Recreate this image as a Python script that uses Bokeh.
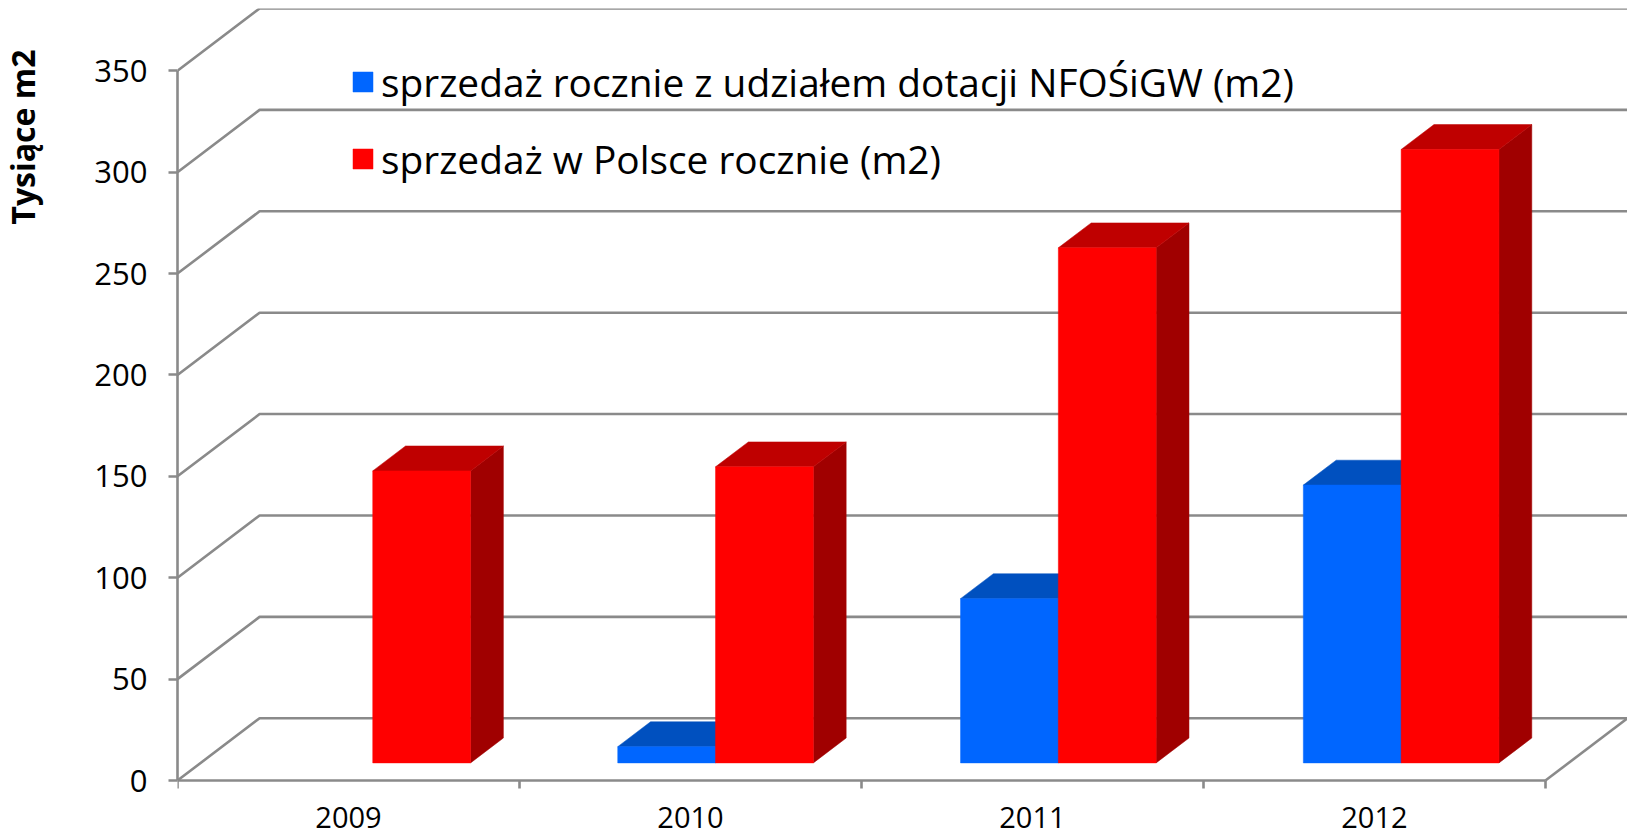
from bokeh.plotting import figure
from bokeh.embed import file_html
from bokeh.resources import INLINE
from bokeh.models import ColumnDataSource, Legend, LegendItem, FixedTicker, LinearAxis, Title, Range1d

years = ["2009", "2010", "2011", "2012"]
y_ticks = [0, 50, 100, 150, 200, 250, 300, 350]
dotacje = [0, 8, 81, 137]
polska = [144, 146, 254, 302.5]
name_dotacje = "sprzedaż rocznie z udziałem dotacji NFOŚiGW (m2)"
name_polska = "sprzedaż w Polsce rocznie (m2)"
y_title = "Tysiące m2"

FONT = "Open Sans"
GRID = "#8a8a8a"
LW = 2.6
DX, DY = 0.24, 30.7          # depth of the 3D box, data units
F0, F1 = 0.283, 0.683        # bar front / back plane inside the depth
BAR_W = 0.286
STEP = 1.0024
OFFS = 0.0018
Y_BOTTOM = -26.13            # room under the zero line for the year labels

p = figure(width=1627, height=833, output_backend="svg", toolbar_location=None,
           x_range=Range1d(0, 4 + DX), y_range=Range1d(Y_BOTTOM, 350 + DY),
           min_border_left=177, min_border_right=0, min_border_top=8, min_border_bottom=0,
           outline_line_color=None, background_fill_color="white", border_fill_color="white")
p.grid.visible = False

# walls
xs, ys = [], []
for v in y_ticks:
    xs.append([0, DX, 4 + DX]); ys.append([v, v + DY, v + DY])
xs.append([4, 4 + DX]); ys.append([0, DY])
p.multi_line(xs, ys, line_color=GRID, line_width=LW)

# axes
ya = p.yaxis[0]
ya.ticker = FixedTicker(ticks=y_ticks)
ya.bounds = (0, 350)
ya.axis_line_color = GRID; ya.axis_line_width = LW
ya.major_tick_line_color = GRID; ya.major_tick_line_width = LW
ya.major_tick_in = 0; ya.major_tick_out = 9
ya.minor_tick_line_color = None
ya.major_label_text_font = FONT; ya.major_label_text_font_size = "31px"
ya.major_label_text_color = "black"; ya.major_label_standoff = 21

xa = p.xaxis[0]
xa.fixed_location = 0
xa.ticker = FixedTicker(ticks=[0.5, 1.5, 2.5, 3.5], minor_ticks=[0, 1, 2, 3, 4])
xa.major_label_overrides = {i + 0.5: y for i, y in enumerate(years)}
xa.bounds = (0, 4)
xa.axis_line_color = GRID; xa.axis_line_width = LW
xa.major_tick_line_color = None; xa.major_tick_in = 0; xa.major_tick_out = 0
xa.minor_tick_line_color = GRID; xa.minor_tick_line_width = LW
xa.minor_tick_in = 0; xa.minor_tick_out = 8
xa.major_label_text_font = FONT; xa.major_label_text_font_size = "29px"
xa.major_label_text_color = "black"; xa.major_label_standoff = 18

# empty axis: only keeps the y title away from the tick labels
spacer = LinearAxis(ticker=FixedTicker(ticks=[]), axis_line_color=None,
                    major_tick_line_color=None, minor_tick_line_color=None,
                    major_tick_out=0, major_tick_in=0, minor_tick_out=0, minor_tick_in=0,
                    axis_label=" ", axis_label_text_font_size="1px", axis_label_standoff=46)
p.add_layout(spacer, "left")

p.add_layout(Title(text=y_title, align="right", offset=41, standoff=-4,
                   text_font=FONT, text_font_size="32px", text_font_style="bold",
                   text_color="black"), "left")


def bars(values, side_offset, front, top, side):
    rows = [(i, v) for i, v in enumerate(values) if v > 0]
    left = [STEP * (i + 0.5) + OFFS + side_offset * BAR_W for i, v in rows]
    right = [l + BAR_W for l in left]
    vals = [v for i, v in rows]
    x0, y0 = F0 * DX, F0 * DY
    x1, y1 = F1 * DX, F1 * DY
    p.patches([[r + x0, r + x1, r + x1, r + x0] for r in right],
              [[y0, y1, v + y1, v + y0] for v in vals],
              fill_color=side, line_color=side, line_width=0.5)
    p.patches([[l + x0, l + x1, r + x1, r + x0] for l, r in zip(left, right)],
              [[v + y0, v + y1, v + y1, v + y0] for v in vals],
              fill_color=top, line_color=top, line_width=0.5)
    src = ColumnDataSource(dict(l=[l + x0 for l in left], r=[r + x0 for r in right],
                                b=[y0] * len(vals), t=[v + y0 for v in vals]))
    return p.quad(left="l", right="r", bottom="b", top="t", source=src,
                  fill_color=front, line_color=front, line_width=0.5)


r_blue = bars(dotacje, -1, "#0066ff", "#0050bf", "#0044a0")
r_red = bars(polska, 0, "#ff0000", "#bf0000", "#a00000")

legend = Legend(items=[LegendItem(label=name_dotacje, renderers=[r_blue]),
                       LegendItem(label=name_polska, renderers=[r_red])],
                location=(173, 648), orientation="vertical",
                border_line_color=None, background_fill_alpha=0,
                glyph_width=25, glyph_height=25, label_standoff=6,
                margin=0, padding=0, spacing=24,
                label_text_font=FONT, label_text_font_size="38.85px", label_text_color="black")
p.add_layout(legend, "center")

open("out.html", "w").write(file_html(p, INLINE))
